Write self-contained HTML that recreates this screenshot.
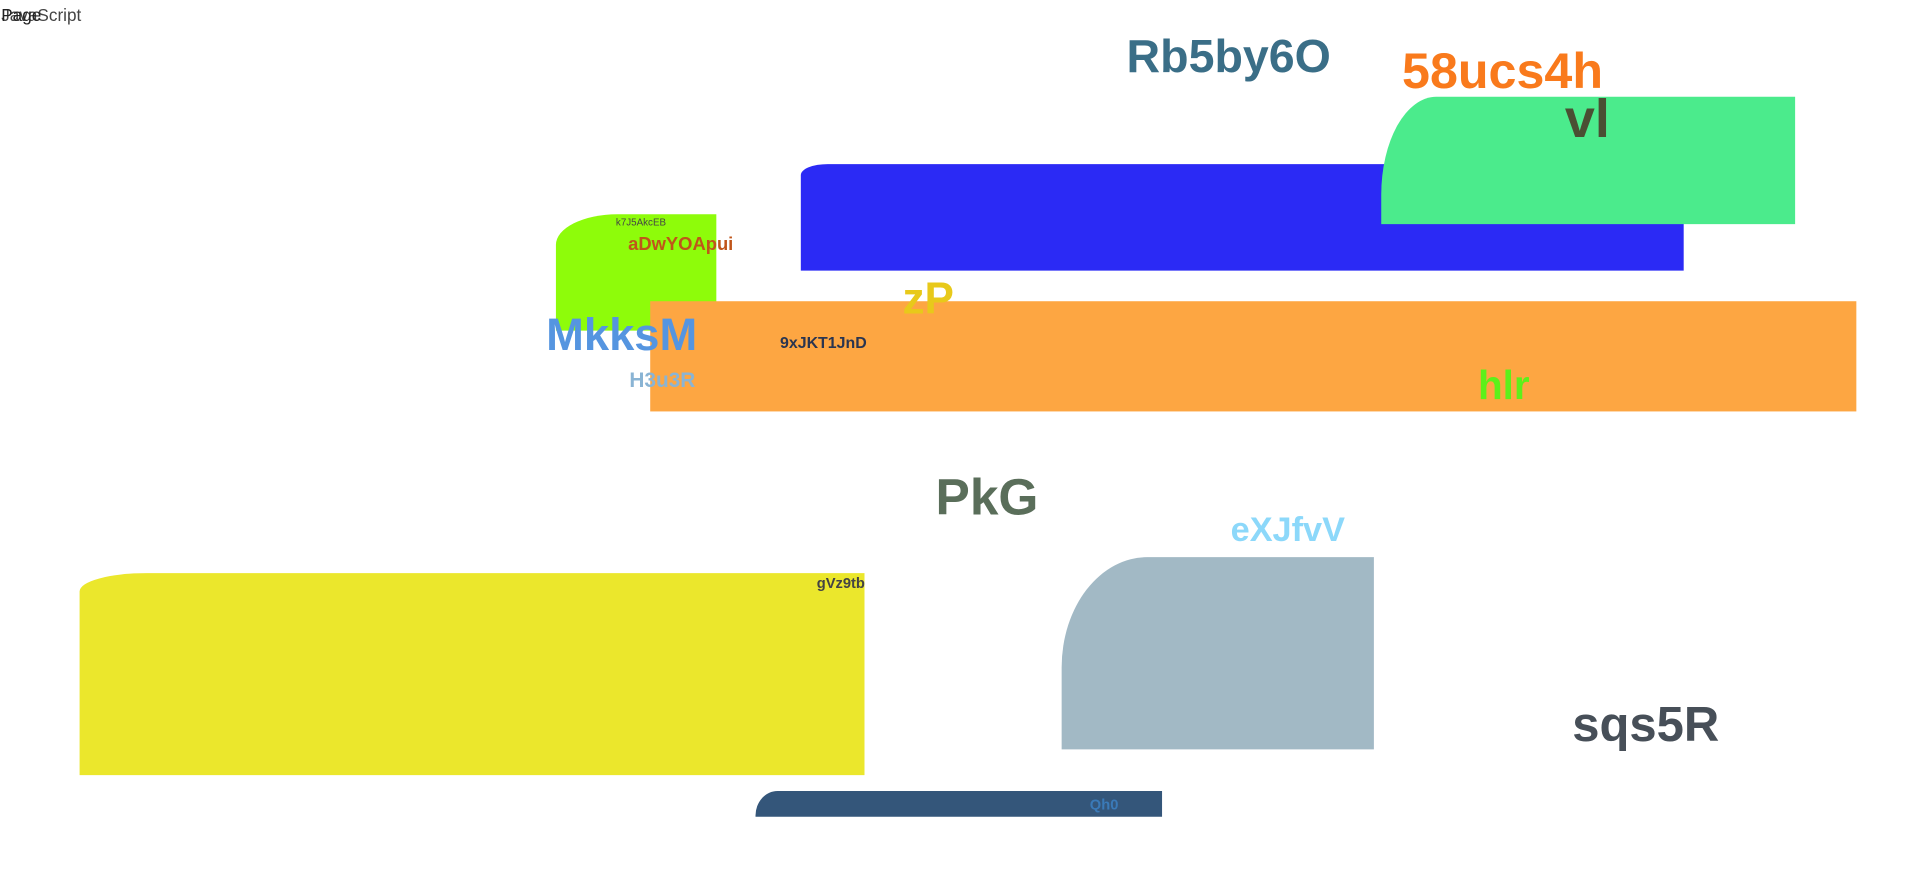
<!DOCTYPE html>
<html><head><meta charset="utf-8"><style>
html,body{margin:0;padding:0;background:#fff;overflow:hidden;width:1920px;height:870px}
#stage{position:absolute;left:0;top:0;width:1568px;height:712px;transform:scale(1.2245);transform-origin:0 0;font-family:"Liberation Sans",sans-serif}
.r{position:absolute}
.t{position:absolute;line-height:1;font-weight:bold;white-space:nowrap}
</style></head><body>
<div id="stage">
<div class="t" style="left:1px;top:5px;font-size:14px;font-weight:normal;color:#444">JavaScript</div>
<div class="t" style="left:1px;top:5px;font-size:14px;font-weight:normal;color:#222">Page</div>

<div class="r" style="left:654px;top:134px;width:721px;height:87px;background:#2b2af5;border-top-left-radius:22px 9px"></div>
<div class="r" style="left:1128px;top:79px;width:338px;height:104px;background:#4beb8c;border-top-left-radius:45px 80px"></div>
<div class="r" style="left:454px;top:175px;width:131px;height:95px;background:#8efc0a;border-top-left-radius:50px 25px"></div>
<div class="r" style="left:531px;top:246px;width:985px;height:90px;background:#fda642"></div>
<div class="r" style="left:65px;top:468px;width:641px;height:165px;background:#ebe72c;border-top-left-radius:55px 15px"></div>
<div class="r" style="left:867px;top:455px;width:255px;height:157px;background:#a2b9c5;border-top-left-radius:70px 90px"></div>
<div class="r" style="left:617px;top:646px;width:332px;height:21px;background:#34567a;border-top-left-radius:18px 20px"></div>

<div class="t" style="left:920px;top:28px;font-size:38px;color:#3a6e87">Rb5by6O</div>
<div class="t" style="left:1145px;top:38px;font-size:41px;color:#f97a1c">58ucs4h</div>
<div class="t" style="left:1278px;top:76px;font-size:44px;color:#4a4f33">vl</div>
<div class="t" style="left:503px;top:178px;font-size:8px;color:#444;font-weight:normal">k7J5AkcEB</div>
<div class="t" style="left:513px;top:192px;font-size:15px;color:#c0551a">aDwYOApui</div>
<div class="t" style="left:737px;top:226px;font-size:36px;color:#e8c91a">zP</div>
<div class="t" style="left:446px;top:255px;font-size:37px;color:#5595e0">MkksM</div>
<div class="t" style="left:637px;top:273px;font-size:13px;color:#2a3550">9xJKT1JnD</div>
<div class="t" style="left:514px;top:302px;font-size:17px;color:#8ab4d4">H3u3R</div>
<div class="t" style="left:1207px;top:298px;font-size:33px;color:#5ef01a">hlr</div>
<div class="t" style="left:764px;top:385px;font-size:42px;color:#5a6e5a">PkG</div>
<div class="t" style="left:1005px;top:419px;font-size:28px;color:#8cd8fa">eXJfvV</div>
<div class="t" style="left:667px;top:470px;font-size:12px;color:#444">gVz9tb</div>
<div class="t" style="left:1284px;top:572px;font-size:40px;color:#474f58">sqs5R</div>
<div class="t" style="left:890px;top:651px;font-size:12px;color:#3a7ab8">Qh0</div>
</div>
</body></html>
